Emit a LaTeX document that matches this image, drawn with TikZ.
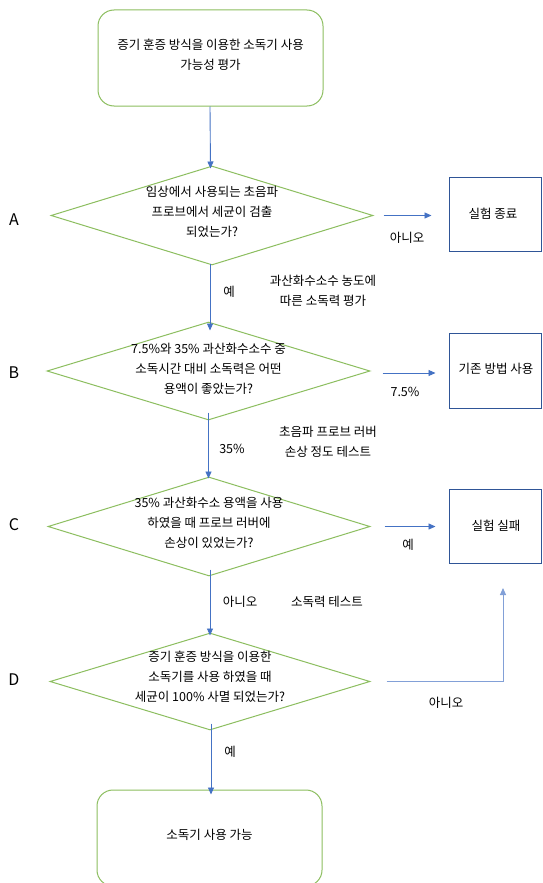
\documentclass[tikz,border=0pt]{standalone}
\usepackage{fontspec}
\setmainfont{Noto Sans CJK KR}
\usetikzlibrary{shapes.geometric,arrows.meta}
\definecolor{grn}{RGB}{140,190,95}
\definecolor{blu}{RGB}{68,114,196}
\definecolor{lblu}{RGB}{130,160,215}
\definecolor{dblu}{RGB}{47,85,151}
\tikzset{
  term/.style={draw=grn, line width=1pt, rounded corners=16pt, fill=white},
  dec/.style={draw=grn, line width=1pt, diamond, inner sep=0pt},
  endbox/.style={draw=dblu, line width=1pt, minimum width=92pt, fill=white},
  txt/.style={font=\fontsize{12.5}{20}\selectfont, align=center, inner sep=0pt, text=black},
  lbl/.style={font=\fontsize{16}{16}\selectfont, inner sep=0pt, text=black},
  conn/.style={draw=blu, line width=0.9pt, -{Triangle[length=7pt,width=6pt]}},
}
\begin{document}
\begin{tikzpicture}[x=1pt,y=-1pt]
\useasboundingbox (0,0) rectangle (542,883);
\clip (0,0) rectangle (542,883);
\fill[white] (0,0) rectangle (542,883);

% terminals
\node[term, minimum width=225pt, minimum height=96pt] (top) at (210.5,58) {};
\node[txt] (toptxt) at (210.5,55) {증기 훈증 방식을 이용한 소독기 사용\\가능성 평가};
\node[term, minimum width=225pt, minimum height=96pt] (bot) at (209.5,838) {};
\node[txt] (bottxt) at (209.5,835) {소독기 사용 가능};

% decisions
\node[dec, minimum width=322pt, minimum height=99pt] (dA) at (212,215.5) {};
\node[txt] (tA) at (212,212) {임상에서 사용되는 초음파\\프로브에서 세균이 검출\\되었는가?};
\node[dec, minimum width=323pt, minimum height=98pt] (dB) at (208.5,371) {};
\node[txt] (tB) at (208.5,368.5) {7.5\%와 35\% 과산화수소수 중\\소독시간 대비 소독력은 어떤\\용액이 좋았는가?};
\node[dec, minimum width=322pt, minimum height=99pt] (dC) at (209,526.5) {};
\node[txt] (tC) at (209,523) {35\% 과산화수소 용액을 사용\\하였을 때 프로브 러버에\\손상이 있었는가?};
\node[dec, minimum width=320pt, minimum height=97pt] (dD) at (210,681.5) {};
\node[txt] (tD) at (210,676.5) {증기 훈증 방식을 이용한\\소독기를 사용 하였을 때\\세균이 100\%  사멸 되었는가?};

% end boxes
\node[endbox, minimum height=74pt] (r1) at (495,214) {};
\node[txt] (r1t) at (493,214) {실험 종료};
\node[endbox, minimum height=75pt] (r2) at (495,370.5) {};
\node[txt] (r2t) at (496,369) {기존 방법 사용};
\node[endbox, minimum height=74pt] (r3) at (495,526) {};
\node[txt] (r3t) at (496,526) {실험 실패};

% side letters
\node[lbl] (LA) at (14,220) {A};
\node[lbl] (LB) at (14,373) {B};
\node[lbl] (LC) at (14,525) {C};
\node[lbl] (LD) at (14,680) {D};

% vertical connectors
\draw[conn] ([xshift=-0.5pt]top.south) -- ([yshift=-3pt]dA.north -| top.south);
\draw[conn] ([xshift=-2pt,yshift=2pt]dA.south) -- ([xshift=-2pt,yshift=-9pt]dB.north -| dA.south);
\draw[conn] ([yshift=8pt]dB.south) -- ([yshift=-2pt]dC.north -| dB.south);
\draw[conn] ([xshift=1pt,yshift=7pt]dC.south) -- ([xshift=1pt,yshift=-3pt]dD.north -| dC.south);
\draw[conn] ([xshift=1pt,yshift=7pt]dD.south) -- ([xshift=1pt,yshift=-5pt]bot.north -| dD.south);

% horizontal connectors
\draw[conn] ([xshift=10pt]dA.east) -- ([xshift=-17pt]r1.west |- dA.east);
\draw[conn] ([xshift=12pt,yshift=-2pt]dB.east) -- ([xshift=-13pt,yshift=-2pt]r2.west |- dB.east);
\draw[conn] ([xshift=14pt]dC.east) -- ([xshift=-13pt]r3.west |- dC.east);
\coordinate (dtip) at (503,588);
\draw[conn, draw=lblu] ([xshift=16pt]dD.east) -| (dtip);

% connector labels
\node[txt] (nA) at (407,238) {아니오};
\node[txt] (yA) at (229,292) {예};
\node[txt] (nB) at (405,392) {7.5\%};
\node[txt] (yB) at (232,449) {35\%};
\node[txt] (yC) at (408,545) {예};
\node[txt] (nC) at (240,602) {아니오};
\node[txt] (nD) at (446,703) {아니오};
\node[txt] (yD) at (230,752) {예};

% notes
\node[txt] (n1) at (323,291) {과산화수소수 농도에\\따른 소독력 평가};
\node[txt] (n2) at (328,441.5) {초음파 프로브 러버\\손상 정도 테스트};
\node[txt] (n3) at (327,602) {소독력 테스트};
\end{tikzpicture}
\end{document}
